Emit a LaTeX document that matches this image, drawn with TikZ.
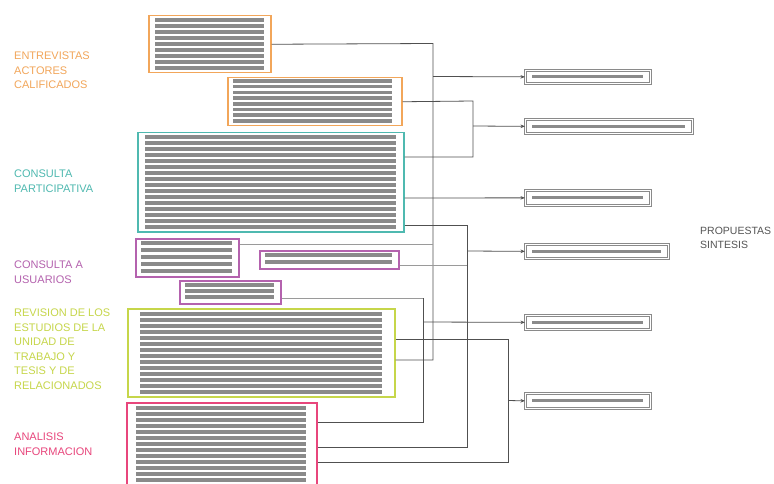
\documentclass[tikz,border=0pt]{standalone}
\usepackage{fontspec}
\setmainfont{Liberation Sans}
\usetikzlibrary{arrows.meta}
\definecolor{cOr}{HTML}{F2A65A}
\definecolor{cTe}{HTML}{4FB9B0}
\definecolor{cPu}{HTML}{B462AE}
\definecolor{cYe}{HTML}{C6D64A}
\definecolor{cPk}{HTML}{E8467C}
\definecolor{cBar}{HTML}{8A8A8A}
\definecolor{cLn}{HTML}{505050}
\definecolor{cFaint}{HTML}{9A9A9A}
\definecolor{cTxt}{HTML}{555555}
\begin{document}
\begin{tikzpicture}[x=1pt,y=-1pt,
  box/.style={draw=#1,line width=1.5pt,inner sep=0pt,anchor=north west},
  bar/.style={draw=cBar,line width=3.6pt},
  lab/.style={anchor=north west,align=left,inner sep=0pt,font=\fontsize{11}{14.5}\selectfont},
  conn/.style={draw=cLn,line width=0.8pt},
  faint/.style={draw=cFaint,line width=0.7pt},
  arr/.style={conn,-{Stealth[length=4.5pt,width=3.5pt]}},
  outbox/.style={draw=cBar,line width=0.7pt,double=white,double distance=1.2pt,inner sep=0pt,anchor=north west},
  rbar/.style={draw=cBar,line width=3pt}]
\fill[white] (0,0) rectangle (774,484);
\useasboundingbox (0,0) rectangle (774,484);
\begin{scope}
\clip (0,0) rectangle (774,484);
% ---- left labels
\node[lab,text=cOr] (LA) at (14,52) {ENTREVISTAS\\ACTORES\\CALIFICADOS};
\node[lab,text=cTe] (LC) at (14,170) {CONSULTA\\PARTICIPATIVA};
\node[lab,text=cPu] (LD) at (14,261) {CONSULTA A\\USUARIOS};
\node[lab,text=cYe] (LE) at (14,309) {REVISION DE LOS\\ESTUDIOS DE LA\\UNIDAD DE\\TRABAJO Y\\TESIS Y DE\\RELACIONADOS};
\node[lab,text=cPk] (LF) at (14,433) {ANALISIS\\INFORMACION};
\node[lab,text=cTxt,font=\fontsize{10.5}{14}\selectfont] (LP) at (700,227) {PROPUESTAS\\SINTESIS};
% ---- boxes
\node[box=cOr,minimum width=122pt,minimum height=57pt] (A) at (148,15) {};
\foreach \i in {0,...,8} \draw[bar] ({155},{20+6*\i}) -- ({264},{20+6*\i});
\node[box=cOr,minimum width=174pt,minimum height=48pt] (B) at (227,77) {};
\foreach \i in {0,...,7} \draw[bar] ({233},{81+5.7*\i}) -- ({392},{81+5.7*\i});
\node[box=cTe,minimum width=266pt,minimum height=99pt] (C) at (137,132) {};
\foreach \i in {0,...,15} \draw[bar] ({145},{137+6*\i}) -- ({396},{137+6*\i});
\node[box=cPu,minimum width=103pt,minimum height=38pt] (D1) at (135,238) {};
\foreach \i in {0,...,4} \draw[bar] ({141},{243+7*\i}) -- ({232},{243+7*\i});
\node[box=cPu,minimum width=139pt,minimum height=18pt] (D2) at (259,250) {};
\foreach \i in {0,1} \draw[bar] ({265},{255+7*\i}) -- ({392},{255+7*\i});
\node[box=cPu,minimum width=101pt,minimum height=23pt] (D3) at (179,280) {};
\foreach \i in {0,...,2} \draw[bar] ({185},{285+6*\i}) -- ({274},{285+6*\i});
\node[box=cYe,minimum width=267pt,minimum height=88pt] (E) at (127,308) {};
\foreach \i in {0,...,13} \draw[bar] ({140},{314+6*\i}) -- ({382},{314+6*\i});
\node[box=cPk,minimum width=190pt,minimum height=95pt] (F) at (126,402) {};
\foreach \i in {0,...,12} \draw[bar] ({136},{408+6*\i}) -- ({306},{408+6*\i});
% ---- result boxes
\node[outbox,minimum width=125pt,minimum height=13pt] (R1) at (525,70) {};
\node[outbox,minimum width=167pt,minimum height=14pt] (R2) at (525,119) {};
\node[outbox,minimum width=125pt,minimum height=15pt] (R3) at (525,190) {};
\node[outbox,minimum width=143pt,minimum height=14pt] (R4) at (525,244) {};
\node[outbox,minimum width=125pt,minimum height=14pt] (R5) at (525,315) {};
\node[outbox,minimum width=125pt,minimum height=15pt] (R6) at (525,393) {};
\foreach \r in {R1,R2,R3,R4,R5,R6}
  \draw[rbar] ([xshift=7pt]\r.west) -- ([xshift=-8pt]\r.east);
% ---- junction coordinates
\coordinate (tA) at (433,43.5);
\coordinate (tE) at (433,360);
\coordinate (t1) at (433,76.5);
\coordinate (jB) at (473,101);
\coordinate (jC) at (473,157);
\coordinate (j2) at (473,126);
\coordinate (kC) at (467,225);
\coordinate (kF) at (467,447);
\coordinate (k4) at (467,251);
\coordinate (tD1) at (433,244);
\coordinate (kD2) at (467,265);
\coordinate (mD3) at (423,298);
\coordinate (mF) at (423,422);
\coordinate (m5) at (423,322);
\coordinate (nE) at (508,339);
\coordinate (nF) at (508,462);
\coordinate (n6) at (508,400.5);
% ---- connectors
\draw[conn] (A.east) -- (tA) -- (tE) -- (E.east |- tE);
\draw[arr] (t1) -- (R1.west);
\draw[conn] (B.east) -- (jB) -- (jC) -- (C.east |- jC);
\draw[arr] (j2) -- (R2.west);
\draw[arr] ([yshift=-66pt]C.north east) -- (R3.west);
\draw[conn] (C.east |- kC) -- (kC) -- (kF) -- (F.east |- kF);
\draw[arr] (k4) -- (R4.west);
\draw[faint] (D1.east |- tD1) -- (tD1);
\draw[faint] (D2.east |- kD2) -- (kD2);
\draw[faint] (D3.east |- mD3) -- (mD3);
\draw[conn] (mD3) -- (mF) -- (F.east |- mF);
\draw[arr] (m5) -- (R5.west);
\draw[conn] (E.east |- nE) -- (nE) -- (nF) -- (F.east |- nF);
\draw[arr] (n6) -- (R6.west);
\end{scope}
\end{tikzpicture}
\end{document}
